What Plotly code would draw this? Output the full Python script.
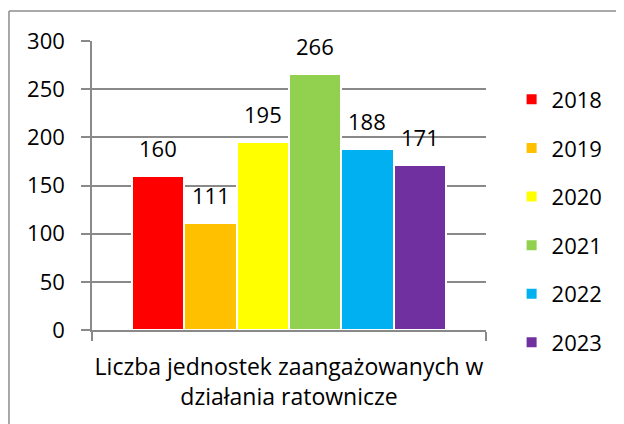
import plotly.graph_objects as go

years = ["2018", "2019", "2020", "2021", "2022", "2023"]
values = [160, 111, 195, 266, 188, 171]
colors = ["#FF0000", "#FFC000", "#FFFF00", "#92D050", "#00B0F0", "#7030A0"]
category = "Liczba jednostek zaangażowanych w<br>działania ratownicze"
y_ticks = [0, 50, 100, 150, 200, 250, 300]

FONT = "Open Sans"
GRID = "#898989"

fig = go.Figure()

for i, (yr, val, col) in enumerate(zip(years, values, colors)):
    fig.add_trace(go.Bar(
        x=[yr], y=[val], name=yr,
        marker=dict(color=col, line=dict(color="white", width=2)),
        legendgroup=yr,
    ))
    # data label above the bar (category index, numeric-looking names confuse annotations)
    fig.add_annotation(
        x=i, y=val, text=str(val), showarrow=False,
        yanchor="bottom", yshift=11,
        font=dict(family=FONT, size=22, color="black"),
    )

x_lo, x_hi = -1.27, 6.27

# page has an 8px body margin, so the figure is shifted by 8px
fig.update_layout(
    width=616, height=416,
    margin=dict(l=84, r=138, t=33, b=94, autoexpand=False),
    paper_bgcolor="white", plot_bgcolor="white",
    barmode="overlay", bargap=0,
    font=dict(family=FONT, size=22, color="black"),
    showlegend=True,
    legend=dict(
        x=1.065, y=0.87, xanchor="left", yanchor="top",
        font=dict(family=FONT, size=22),
        tracegroupgap=17, itemwidth=30,
    ),
    xaxis=dict(
        type="category",
        range=[x_lo, x_hi],
        showticklabels=False,
        tickmode="array", tickvals=[x_lo, x_hi],
        ticks="outside", ticklen=9, tickcolor=GRID, tickwidth=1.5,
        showline=True, linecolor=GRID, linewidth=1.5,
        showgrid=False, zeroline=False, automargin=False,
        title=dict(text=category, standoff=19,
                   font=dict(family=FONT, size=23)),
    ),
    yaxis=dict(
        range=[0, 300], tickvals=y_ticks,
        ticks="outside", ticklen=9, tickcolor=GRID, tickwidth=1.5,
        showline=True, linecolor=GRID, linewidth=1.5,
        showgrid=True, gridcolor=GRID, gridwidth=1.5,
        zeroline=False, ticklabelstandoff=12, automargin=False,
        tickfont=dict(family=FONT, size=22),
    ),
)

# chart area border: only left and top edges fall inside the picture
border = dict(color="#8c8c8c", width=1.5)
fig.add_shape(type="line", xref="paper", yref="paper",
              x0=-0.2107, x1=1.45, y0=1.1038, y1=1.1038, line=border)
fig.add_shape(type="line", xref="paper", yref="paper",
              x0=-0.2107, x1=-0.2107, y0=-0.5, y1=1.1038, line=border)

fig.write_html("out.html")
